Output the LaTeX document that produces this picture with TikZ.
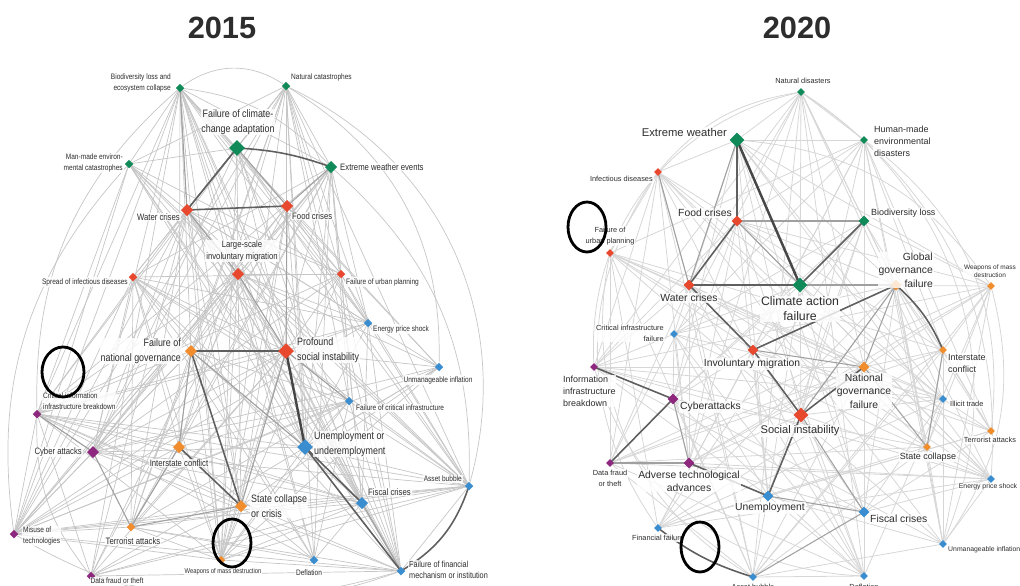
\documentclass[tikz,border=0pt]{standalone}
\usepackage{fontspec}
\setmainfont{Liberation Sans}
\newfontfamily\lfont[FakeStretch=0.83]{Liberation Sans}
\newfontfamily\rfont{Liberation Sans}
\usetikzlibrary{shapes.geometric}
\pgfdeclarelayer{edges}
\pgfsetlayers{edges,main}
\definecolor{cgreen}{RGB}{16,138,88}
\definecolor{cred}{RGB}{232,72,46}
\definecolor{corange}{RGB}{241,141,44}
\definecolor{cblue}{RGB}{58,142,208}
\definecolor{cpurple}{RGB}{142,40,126}
\definecolor{cedge}{RGB}{198,198,198}
\definecolor{cedgeR}{RGB}{214,214,214}
\definecolor{cmid}{RGB}{160,160,160}
\definecolor{cdark}{RGB}{95,95,95}
\definecolor{ctext}{RGB}{45,45,45}
\tikzset{
  dia/.style={diamond, inner sep=0pt, draw=none, minimum size=#1},
  ds/.style={dia=5pt}, dm/.style={dia=7pt}, dl/.style={dia=9pt},
  rs/.style={dia=4.5pt}, rm/.style={dia=6.3pt}, rl/.style={dia=8.5pt},
  G/.style={fill=cgreen}, R/.style={fill=cred}, O/.style={fill=corange},
  B/.style={fill=cblue}, P/.style={fill=cpurple},
  lab/.style={text=ctext, fill=white, fill opacity=0.8, text opacity=1, inner sep=0.5pt},
  lsm/.style={lab, font=\lfont\fontsize{4.5}{6.4}\selectfont},
  lmd/.style={lab, font=\lfont\fontsize{5.3}{7}\selectfont},
  llg/.style={lab, font=\lfont\fontsize{6.1}{8.4}\selectfont},
  rsm/.style={lab, font=\rfont\fontsize{4.2}{6.2}\selectfont},
  rms/.style={lab, font=\rfont\fontsize{5.1}{6.8}\selectfont},
  rmd/.style={lab, font=\rfont\fontsize{5.9}{7.6}\selectfont},
  rlg/.style={lab, font=\rfont\fontsize{7}{8.6}\selectfont},
  edgeL/.style={draw=cedge, line width=0.4pt},
  edgeR/.style={draw=cedgeR, line width=0.45pt},
  midE/.style={draw=cmid, line width=0.6pt},
  darkE/.style={draw=cdark, line width=0.9pt},
  heavyE/.style={draw=black!72, line width=1.4pt},
  annot/.style={ellipse, draw=black, line width=1.6pt, inner sep=0pt},
  title/.style={text=ctext, font=\bfseries\fontsize{17.5}{20}\selectfont}
}
\begin{document}
\begin{tikzpicture}[x=0.02cm, y=-0.02cm]
\useasboundingbox (0,0) rectangle (1020,585);
% titles
\node[title] (T1) at (222,28) {2015};
\node[title] (T2) at (797,28) {2020};
% ---------------- 2015 nodes ----------------
\node[ds,G] (L1) at (180,88) {};
\node[ds,G] (L2) at (286,86) {};
\node[dl,G] (L3) at (237,148) {};
\node[ds,G] (L4) at (129,164) {};
\node[dm,G] (L5) at (331,167) {};
\node[dm,R] (L6) at (187,210) {};
\node[dm,R] (L7) at (287,206) {};
\node[dm,R] (L8) at (238,274) {};
\node[ds,R] (L9) at (133,277) {};
\node[ds,R] (L10) at (341,274) {};
\node[ds,B] (L11) at (368,323) {};
\node[dm,O] (L12) at (191,351) {};
\node[dl,R] (L13) at (286,351) {};
\node[ds,B] (L14) at (439,367) {};
\node[ds,P] (L15) at (37,414) {};
\node[ds,B] (L16) at (349,401) {};
\node[dl,B] (L17) at (305,447) {};
\node[dm,P] (L18) at (93,452) {};
\node[dm,O] (L19) at (179,447) {};
\node[ds,B] (L20) at (469,486) {};
\node[dm,O] (L21) at (241,506) {};
\node[dm,B] (L22) at (362,503) {};
\node[ds,O] (L23) at (131,527) {};
\node[ds,P] (L24) at (14,534) {};
\node[ds,O] (L25) at (221,560) {};
\node[ds,B] (L26) at (314,560) {};
\node[ds,B] (L27) at (401,571) {};
\node[ds,P] (L28) at (91,576) {};
% 2015 labels
\node[lsm, anchor=east, align=right] (L1t) at (172,83) {Biodiversity loss and\\ecosystem collapse};
\node[lsm, anchor=west] (L2t) at (290,77) {Natural catastrophes};
\node[llg, align=center] (L3t) at (238,122) {Failure of climate-\\change adaptation};
\node[lsm, anchor=east, align=right] (L4t) at (124,163) {Man-made environ-\\mental catastrophes};
\node[lmd, anchor=west] (L5t) at (339,167) {Extreme weather events};
\node[lmd, anchor=east] (L6t) at (181,217) {Water crises};
\node[lmd, anchor=west] (L7t) at (291,216) {Food crises};
\node[lmd, align=center] (L8t) at (242,251) {Large-scale\\involuntary migration};
\node[lsm, anchor=east] (L9t) at (129,282) {Spread of infectious diseases};
\node[lsm, anchor=west] (L10t) at (345,282) {Failure of urban planning};
\node[lsm, anchor=west] (L11t) at (372,329) {Energy price shock};
\node[llg, anchor=east, align=right] (L12t) at (182,351) {Failure of\\national governance};
\node[llg, anchor=west, align=left] (L13t) at (296,350) {Profound\\social instability};
\node[lsm] (L14t) at (438,380) {Unmanageable inflation};
\node[lsm, anchor=west, align=left] (L15t) at (42,401) {Critical information\\infrastructure breakdown};
\node[lsm, anchor=west] (L16t) at (355,408) {Failure of critical infrastructure};
\node[llg, anchor=west, align=left] (L17t) at (313,444) {Unemployment or\\underemployment};
\node[lmd, anchor=east] (L18t) at (83,452) {Cyber attacks};
\node[lmd] (L19t) at (179,463) {Interstate conflict};
\node[lsm, anchor=east] (L20t) at (463,479) {Asset bubble};
\node[llg, anchor=west, align=left] (L21t) at (250,506) {State collapse\\or crisis};
\node[lmd, anchor=west] (L22t) at (367,492) {Fiscal crises};
\node[lmd] (L23t) at (133,541) {Terrorist attacks};
\node[lsm, anchor=west, align=left] (L24t) at (22,536) {Misuse of\\technologies};
\node[lab, font=\lfont\fontsize{4}{5}\selectfont] (L25t) at (223,572) {Weapons of mass destruction};
\node[lsm] (L26t) at (309,573) {Deflation};
\node[lab, font=\lfont\fontsize{5}{6.6}\selectfont, anchor=west, align=left] (L27t) at (408,570) {Failure of financial\\mechanism or institution};
\node[lsm] (L28t) at (117,581) {Data fraud or theft};
% ---------------- 2020 nodes ----------------
\node[rs,G] (R1) at (801,92) {};
\node[rl,G] (R2) at (737,140) {};
\node[rs,G] (R3) at (864,140) {};
\node[rs,R] (R4) at (658,172) {};
\node[rm,R] (R5) at (737,221) {};
\node[rm,G] (R6) at (864,221) {};
\node[rs,R] (R7) at (610,253) {};
\node[rm,R] (R8) at (689,285) {};
\node[rl,G] (R9) at (800,285) {};
\node[rm,O] (R10) at (896,285) {};
\node[rs,O] (R11) at (991,286) {};
\node[rs,B] (R12) at (674,334) {};
\node[rm,R] (R13) at (753,350) {};
\node[rs,O] (R14) at (943,350) {};
\node[rm,O] (R15) at (864,367) {};
\node[rs,P] (R16) at (594,367) {};
\node[rs,B] (R17) at (943,399) {};
\node[rm,P] (R18) at (673,399) {};
\node[rl,R] (R19) at (801,415) {};
\node[rs,O] (R20) at (991,431) {};
\node[rs,O] (R21) at (927,447) {};
\node[rs,P] (R22) at (610,463) {};
\node[rm,P] (R23) at (689,463) {};
\node[rs,B] (R24) at (991,479) {};
\node[rm,B] (R25) at (768,496) {};
\node[rm,B] (R26) at (864,512) {};
\node[rs,B] (R27) at (658,528) {};
\node[rs,B] (R28) at (943,544) {};
\node[rs,B] (R29) at (753,577) {};
\node[rs,B] (R30) at (864,576) {};
% 2020 labels
\node[rsm] (R1t) at (803,81) {Natural disasters};
\node[rmd, font=\rfont\fontsize{6.4}{7.6}\selectfont, anchor=east] (R2t) at (728,132) {Extreme weather};
\node[rms, anchor=west, align=left] (R3t) at (873,141) {Human-made\\environmental\\disasters};
\node[rsm, anchor=east] (R4t) at (654,179) {Infectious diseases};
\node[rmd] (R5t) at (705,213) {Food crises};
\node[rms, anchor=west] (R6t) at (870,213) {Biodiversity loss};
\node[rsm, align=center] (R7t) at (610,236) {Failure of\\urban planning};
\node[rmd] (R8t) at (689,298) {Water crises};
\node[rlg, align=center] (R9t) at (800,309) {Climate action\\failure};
\node[rmd, anchor=east, align=right] (R10t) at (934,270) {Global\\governance\\failure};
\node[lab, font=\rfont\fontsize{3.7}{4.7}\selectfont, align=center] (R11t) at (990,271) {Weapons of mass\\destruction};
\node[rsm, anchor=east, align=right] (R12t) at (665,333) {Critical infrastructure\\failure};
\node[rmd] (R13t) at (752,364) {Involuntary migration};
\node[rms, anchor=west, align=left] (R14t) at (947,363) {Interstate\\conflict};
\node[rmd, align=center] (R15t) at (864,391) {National\\governance\\failure};
\node[rms, anchor=west, align=left] (R16t) at (562,391) {Information\\infrastructure\\breakdown};
\node[rsm, anchor=west] (R17t) at (949,404) {Illicit trade};
\node[rmd, anchor=west] (R18t) at (679,407) {Cyberattacks};
\node[rmd, font=\rfont\fontsize{6.3}{7.6}\selectfont] (R19t) at (800,431) {Social instability};
\node[rsm] (R20t) at (990,440) {Terrorist attacks};
\node[rms] (R21t) at (928,457) {State collapse};
\node[rsm, align=center] (R22t) at (610,478) {Data fraud\\or theft};
\node[rmd, align=center] (R23t) at (689,481) {Adverse technological\\advances};
\node[lab, font=\rfont\fontsize{3.9}{5}\selectfont] (R24t) at (988,487) {Energy price shock};
\node[rmd] (R25t) at (770,508) {Unemployment};
\node[rmd, anchor=west] (R26t) at (869,519) {Fiscal crises};
\node[rsm] (R27t) at (658,538) {Financial failure};
\node[lab, font=\rfont\fontsize{3.9}{5}\selectfont, anchor=west] (R28t) at (947,550) {Unmanageable inflation};
\node[rsm] (R29t) at (753,587) {Asset bubble};
\node[rsm] (R30t) at (864,587) {Deflation};
% annotation ellipses
\node[annot, minimum width=0.84cm, minimum height=1.0cm] (A1) at (63,372) {};
\node[annot, minimum width=0.76cm, minimum height=0.96cm] (A2) at (232,543) {};
\node[annot, minimum width=0.76cm, minimum height=1.0cm] (A3) at (587,227) {};
\node[annot, minimum width=0.76cm, minimum height=1.0cm] (A4) at (700,547) {};
% ---------------- edges ----------------
\begin{pgfonlayer}{edges}
\foreach \i in {1,...,27}{
  \pgfmathtruncatemacro\jst{\i+1}
  \foreach \j in {\jst,...,28}{
    \pgfmathtruncatemacro\k{mod(3*\i*\i+5*\j*\j+\i*\j,7)}
    \ifnum\k<4 \draw[edgeL] (L\i.center) -- (L\j.center);\fi
  }
}
\foreach \i in {1,...,29}{
  \pgfmathtruncatemacro\jst{\i+1}
  \foreach \j in {\jst,...,30}{
    \pgfmathtruncatemacro\k{mod(5*\i*\i+3*\j*\j+2*\i*\j,7)}
    \ifnum\k<4 \draw[edgeR] (R\i.center) -- (R\j.center);\fi
  }
}
% outer arcs 2015
\draw[edgeL] (L1) to[bend left=35] (L2);
\draw[edgeL] (L2) to[bend left=40] (L20);
\draw[edgeL] (L2) to[bend left=30] (L14);
\draw[edgeL] (L5) to[bend left=25] (L20);
\draw[edgeL] (L1) to[bend right=25] (L15);
\draw[edgeL] (L4) to[bend right=25] (L24);
\draw[edgeL] (L24) to[bend right=25] (L27);
\draw[edgeL] (L28) to[bend right=15] (L27);
\draw[edgeL] (L15) to[bend right=20] (L28);
\draw[edgeL] (L1) to[bend left=20] (L5);
% outer arcs 2020
\draw[edgeR] (R1) to[bend left=40] (R28);
\draw[edgeR] (R1) to[bend right=40] (R16);
\draw[edgeR] (R1) to[bend left=30] (R24);
\draw[edgeR] (R4) to[bend right=35] (R27);
\draw[edgeR] (R16) to[bend right=35] (R30);
\draw[edgeR] (R7) to[bend right=35] (R29);
\draw[edgeR] (R3) to[bend left=30] (R20);
\draw[edgeR] (R11) to[bend left=25] (R28);
\draw[edgeR] (R2) to[bend left=25] (R11);
\draw[edgeR] (R4) to[bend left=20] (R1);
% medium edges
\foreach \a/\b in {L3/L7,L3/L6,L6/L8,L7/L13,L8/L13,L12/L19,L12/L17,L13/L16,L17/L22,L22/L27,L21/L23,L19/L23,L18/L23,L18/L15,L13/L21,L5/L7,L1/L6,
                   R2/R8,R5/R9,R9/R10,R10/R15,R10/R19,R13/R15,R18/R23,R22/R23,R19/R26,R26/R29,R25/R26,R15/R21,R14/R21,R5/R6,R4/R8}
  \draw[midE] (\a.center) -- (\b.center);
% dark edges
\draw[darkE] (L3.center) to[bend left=8] (L5.center);
\foreach \a/\b in {L6/L7,L6/L3,L12/L13,L12/L21,L19/L21,L22/L17,L17/L27,
                   R2/R5,R9/R6,R5/R8,R8/R9,R8/R13,R16/R18,R18/R22,R19/R25,R23/R25,R19/R15,R13/R19,R13/R10}
  \draw[darkE] (\a.center) -- (\b.center);
\draw[darkE] (L20.center) to[bend left=20] (L27.center);
\draw[darkE] (R27.center) to[bend right=10] (R29.center);
\draw[darkE] (R10.center) to[bend left=12] (R14.center);
\draw[heavyE] (L13.center) -- (L17.center);
\draw[heavyE] (R2.center) -- (R9.center);
\end{pgfonlayer}
\end{tikzpicture}
\end{document}
